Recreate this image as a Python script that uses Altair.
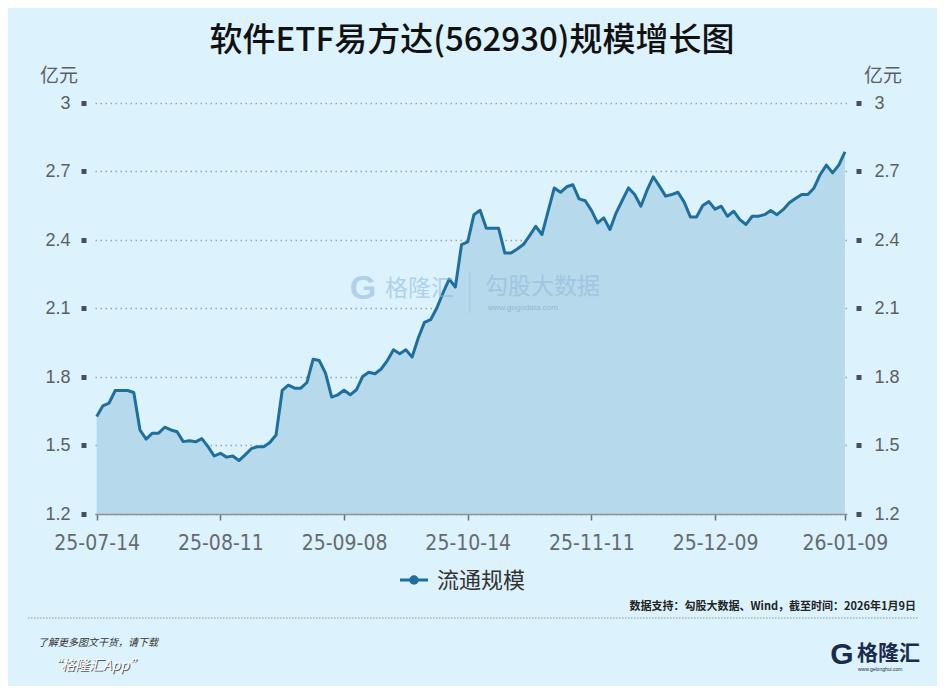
import altair as alt
import pandas as pd

# ---- data ----
scale_values = [
    1.627, 1.674, 1.686, 1.741, 1.741, 1.741, 1.732, 1.568, 1.528, 1.554,
    1.554, 1.580, 1.568, 1.560, 1.517, 1.521, 1.516, 1.530, 1.495, 1.454,
    1.466, 1.449, 1.454, 1.434, 1.459, 1.486, 1.495, 1.495, 1.513, 1.546,
    1.741, 1.764, 1.751, 1.751, 1.776, 1.878, 1.872, 1.817, 1.712, 1.722,
    1.742, 1.722, 1.744, 1.802, 1.821, 1.814, 1.835, 1.872, 1.919, 1.902,
    1.919, 1.887, 1.971, 2.039, 2.051, 2.102, 2.168, 2.229, 2.194, 2.380,
    2.392, 2.511, 2.530, 2.451, 2.451, 2.451, 2.343, 2.343, 2.361, 2.380,
    2.419, 2.460, 2.424, 2.526, 2.628, 2.609, 2.633, 2.642, 2.580, 2.572,
    2.530, 2.475, 2.497, 2.446, 2.519, 2.574, 2.628, 2.599, 2.548, 2.618,
    2.677, 2.636, 2.592, 2.599, 2.609, 2.566, 2.501, 2.501, 2.551, 2.568,
    2.535, 2.548, 2.504, 2.526, 2.489, 2.468, 2.504, 2.504, 2.511, 2.529,
    2.511, 2.533, 2.563, 2.582, 2.599, 2.599, 2.628, 2.687, 2.728, 2.694,
    2.728, 2.786,
]
tick_positions = [0, 20, 40, 60, 80, 100, 121]
tick_labels = ["25-07-14", "25-08-11", "25-09-08", "25-10-14", "25-11-11", "25-12-09", "26-01-09"]
y_ticks = [1.2, 1.5, 1.8, 2.1, 2.4, 2.7, 3.0]

title_text = "软件ETF易方达(562930)规模增长图"
unit_text = "亿元"
series_name = "流通规模"
source_text = "数据支持：勾股大数据、Wind，截至时间：2026年1月9日"

df = pd.DataFrame({"i": list(range(len(scale_values))), "v": scale_values})

W, H = 752, 411
BG = "#dcf2fd"
LINE = "#1f6f9e"
FILL = "#b6daec"
CJK = "Noto Sans CJK SC"
NUM = "Liberation Sans, Roboto, sans-serif"
NARROW = "Liberation Sans Narrow, DejaVu Sans Condensed, Liberation Sans, sans-serif"

label_expr = "[" + ",".join(f"'{l}'" for l in tick_labels) + "][indexof([" + \
    ",".join(str(p) for p in tick_positions) + "], datum.value)]"

xs = alt.Scale(domain=[-0.275, 121.33], nice=False, zero=False)
ys = alt.Scale(domain=[1.2, 3.0], nice=False, zero=False)

x_enc = alt.X("i:Q", scale=xs, title=None,
              axis=alt.Axis(values=tick_positions, labelExpr=label_expr, grid=False,
                            domainColor="#8c949a", domainWidth=1.5, tickColor="#6a6f74",
                            tickSize=6, tickWidth=1.5, labelFontSize=21, labelFont=NARROW,
                            labelColor="#666a6e", labelPadding=12, labelFlush=False,
                            zindex=1))

left_axis = alt.Axis(values=y_ticks, format="~g", domain=False, offset=9,
                     tickSize=5, tickWidth=5, tickColor="#4a4f55",
                     labelFontSize=18, labelFont=NUM, labelColor="#5c5f62", labelPadding=11,
                     grid=True, gridDash=[1.5, 3.5], gridColor="#9aa4aa", gridWidth=1.3,
                     title=None)
right_axis = alt.Axis(values=y_ticks, format="~g", domain=False, offset=9, orient="right",
                      tickSize=5, tickWidth=5, tickColor="#4a4f55",
                      labelFontSize=18, labelFont=NUM, labelColor="#5c5f62", labelPadding=13,
                      grid=False, title=None)

area = alt.Chart(df).mark_area(color=FILL, opacity=1).encode(
    x=x_enc, y=alt.Y("v:Q", scale=ys, axis=left_axis), y2=alt.datum(1.2))
line = alt.Chart(df).mark_line(color=LINE, strokeWidth=3, strokeJoin="round").encode(
    x=alt.X("i:Q", scale=xs), y=alt.Y("v:Q", scale=ys, axis=right_axis))


def txt(text, x, y, size, color="#333333", font=CJK, align="left", baseline="middle",
        weight="normal", italic=False, opacity=1.0):
    kw = dict(fontSize=size, color=color, font=font, align=align, baseline=baseline,
              fontWeight=weight, opacity=opacity)
    if italic:
        kw["fontStyle"] = "italic"
    return alt.Chart(pd.DataFrame({"t": [text]})).mark_text(**kw).encode(
        text="t:N", x=alt.value(x), y=alt.value(y))


one = pd.DataFrame({"k": [0]})

layers = [
    area, line,
    # title & units
    txt(title_text, 377, -62, 33, color="#111111", align="center", weight=500),
    txt(unit_text, -36, -27, 19, color="#5c5f62", align="center"),
    txt(unit_text, 788, -27, 19, color="#5c5f62", align="center"),
    # watermark
    txt("G", 268, 186, 34, color="#8fb6da", font=NUM, align="center", weight="bold", opacity=0.55),
    txt("格隆汇", 290, 186, 23, color="#8fb6da", opacity=0.55),
    alt.Chart(one).mark_rule(color="#8fb6da", opacity=0.4, strokeWidth=1.2).encode(
        x=alt.value(375), y=alt.value(169), y2=alt.value(210)),
    txt("勾股大数据", 390, 184, 23, color="#8fb6da", opacity=0.55),
    txt("www.gogudata.com", 393, 205, 8, color="#7f9fc0", font=NUM, opacity=0.6),
    # legend
    alt.Chart(one).mark_rule(color=LINE, strokeWidth=3).encode(
        x=alt.value(305), x2=alt.value(333), y=alt.value(477)),
    alt.Chart(one).mark_point(filled=True, color=LINE, size=90, opacity=1).encode(
        x=alt.value(319), y=alt.value(477)),
    txt(series_name, 342, 478, 22, color="#333333"),
    # footer
    txt(source_text, 821, 504, 11, color="#222222", align="right", weight="bold"),
    alt.Chart(one).mark_rule(color="#8d9499", strokeWidth=1, strokeDash=[1.5, 1.5]).encode(
        x=alt.value(-67), x2=alt.value(823), y=alt.value(515)),
    txt("了解更多图文干货，请下载", -57, 540, 10, color="#333333", italic=True),
    txt("“格隆汇App”", -47, 564, 14, color="#555555", italic=True),
    txt("“格隆汇App”", -48, 563, 14, color="#ffffff", italic=True),
    txt("G", 747, 552, 30, color="#1b2b4b", font=NUM, align="center", weight="bold"),
    txt("格隆汇", 762, 551, 21, color="#1b2b4b", weight="bold"),
    txt("www.gelonghui.com", 763, 566, 5, color="#1b2b4b", font=NUM),
]

chart = alt.layer(*layers).resolve_axis(y="independent").properties(
    width=W, height=H,
    autosize=alt.AutoSizeParams(type="none"),
    padding={"left": 87, "top": 95, "right": 90, "bottom": 172},
    background=BG,
).configure_view(stroke=None)

chart.save("out.html", embed_options={"renderer": "svg", "actions": False})
